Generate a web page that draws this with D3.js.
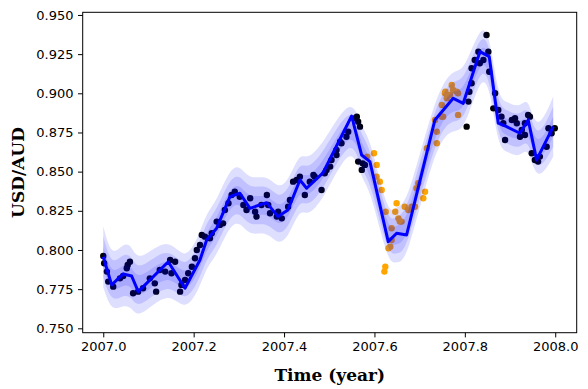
<!DOCTYPE html>
<html>
<head>
<meta charset="utf-8">
<script src="https://cdn.jsdelivr.net/npm/d3@7"></script>
<style>
  body { margin: 0; background: #fff; }
  .tick text { font-family: "DejaVu Sans", sans-serif; font-size: 13px; fill: #000; }
</style>
</head>
<body>
<div id="chart"></div>
<script>
// predicted mean at the knot positions
const meanYears = [2007.000, 2007.0186, 2007.0442, 2007.0628, 2007.0774, 2007.1438, 2007.1808, 2007.2139,
  2007.2288, 2007.2509, 2007.2803, 2007.3024, 2007.3246, 2007.3615, 2007.3865, 2007.4086, 2007.4352,
  2007.4500, 2007.4861, 2007.5496, 2007.5717, 2007.5900, 2007.6305, 2007.6491, 2007.6712, 2007.7338,
  2007.7743, 2007.7965, 2007.8334, 2007.8540, 2007.8739, 2007.8925, 2007.9219, 2007.9403, 2007.9588, 2007.9956];
const meanRates = [0.7957, 0.7777, 0.7847, 0.7834, 0.7734, 0.7925, 0.7756, 0.7936,
  0.8064, 0.8139, 0.8340, 0.8362, 0.8266, 0.8302, 0.8213, 0.8255, 0.8447,
  0.8394, 0.8492, 0.8855, 0.8606, 0.8564, 0.8053, 0.8107, 0.8096, 0.8830,
  0.8968, 0.8936, 0.9266, 0.9234, 0.8809, 0.8787, 0.8745, 0.8830, 0.8575, 0.8787];
// standard deviation at the same knots
const meanSigma = [0.0065, 0.0058, 0.0066, 0.0066, 0.0060, 0.0058, 0.0053, 0.0058,
  0.0058, 0.0058, 0.0060, 0.0060, 0.0060, 0.0060, 0.0060, 0.0060, 0.0060,
  0.0060, 0.0060, 0.0050, 0.0055, 0.0055, 0.0050, 0.0060, 0.0060, 0.0053,
  0.0064, 0.0064, 0.0055, 0.0055, 0.0053, 0.0053, 0.0053, 0.0053, 0.0053, 0.0064];

// training observations (black)
const trainYears = [2007.000, 2007.002, 2007.008, 2007.011, 2007.022, 2007.037, 2007.044, 2007.052, 2007.059, 2007.054,
  2007.066, 2007.077, 2007.088, 2007.103, 2007.114, 2007.117, 2007.125, 2007.137, 2007.148, 2007.159,
  2007.151, 2007.170, 2007.173, 2007.181, 2007.188, 2007.196, 2007.203, 2007.207, 2007.214, 2007.218,
  2007.225, 2007.236, 2007.240, 2007.251, 2007.258, 2007.265, 2007.269, 2007.277, 2007.284, 2007.291,
  2007.302, 2007.310, 2007.317, 2007.325, 2007.336, 2007.350, 2007.362, 2007.369, 2007.384, 2007.339,
  2007.365, 2007.387, 2007.395, 2007.409, 2007.413, 2007.420, 2007.428, 2007.435, 2007.446, 2007.457,
  2007.465, 2007.468, 2007.483, 2007.490, 2007.494, 2007.502, 2007.505, 2007.516, 2007.524, 2007.527,
  2007.516, 2007.538, 2007.542, 2007.557, 2007.561, 2007.564, 2007.568, 2007.564, 2007.574, 2007.572,
  2007.579, 2007.804, 2007.808, 2007.810, 2007.815, 2007.815, 2007.822, 2007.830, 2007.833, 2007.841,
  2007.848, 2007.852, 2007.854, 2007.867, 2007.863, 2007.874, 2007.881, 2007.885, 2007.889, 2007.904,
  2007.911, 2007.915, 2007.922, 2007.926, 2007.933, 2007.940, 2007.944, 2007.948, 2007.955, 2007.962,
  2007.966, 2007.981, 2007.985, 2007.992, 2007.999, 2007.933];
const trainRates = [0.7962, 0.7915, 0.7862, 0.7798, 0.7766, 0.7819, 0.7834, 0.7883, 0.7925, 0.7904,
  0.7724, 0.7734, 0.7756, 0.7819, 0.7787, 0.7734, 0.7872, 0.7862, 0.7936, 0.7925,
  0.7851, 0.7734, 0.7777, 0.7809, 0.7851, 0.7893, 0.7947, 0.8000, 0.8032, 0.8096,
  0.8085, 0.8075, 0.8107, 0.8181, 0.8160, 0.8170, 0.8255, 0.8298, 0.8351, 0.8372,
  0.8340, 0.8287, 0.8255, 0.8330, 0.8244, 0.8287, 0.8351, 0.8234, 0.8213, 0.8213,
  0.8287, 0.8244, 0.8202, 0.8276, 0.8319, 0.8436, 0.8447, 0.8468, 0.8351, 0.8436,
  0.8479, 0.8468, 0.8383, 0.8490, 0.8511, 0.8532, 0.8574, 0.8606, 0.8691, 0.8681,
  0.8638, 0.8723, 0.8755, 0.8841, 0.8851, 0.8819, 0.8787, 0.8564, 0.8553, 0.8511,
  0.8543, 0.8787, 0.8947, 0.9010, 0.9064, 0.9160, 0.9213, 0.9266, 0.9192, 0.9213,
  0.9372, 0.9266, 0.9138, 0.9000, 0.8904, 0.8894, 0.8851, 0.8809, 0.8702, 0.8830,
  0.8841, 0.8809, 0.8723, 0.8766, 0.8809, 0.8862, 0.8851, 0.8617, 0.8574, 0.8564,
  0.8596, 0.8659, 0.8777, 0.8745, 0.8777, 0.8734];

// held-out observations (orange)
const testYears = [2007.599, 2007.584, 2007.605, 2007.612, 2007.616, 2007.605, 2007.625, 2007.638, 2007.638, 2007.635,
  2007.631, 2007.624, 2007.622, 2007.649, 2007.646, 2007.653, 2007.656, 2007.667, 2007.675, 2007.682,
  2007.690, 2007.660, 2007.693, 2007.697, 2007.712, 2007.708, 2007.716, 2007.738, 2007.734, 2007.749,
  2007.749, 2007.785, 2007.738, 2007.757, 2007.771, 2007.774, 2007.785, 2007.760, 2007.752, 2007.767,
  2007.782, 2007.756];
const testRates = [0.8617, 0.8596, 0.8543, 0.8436, 0.8383, 0.8468, 0.8244, 0.8139, 0.8064, 0.8021,
  0.8011, 0.7893, 0.7862, 0.8298, 0.8244, 0.8202, 0.8181, 0.8276, 0.8255, 0.8276,
  0.8276, 0.8181, 0.8394, 0.8426, 0.8372, 0.8330, 0.8649, 0.8755, 0.8830, 0.8851,
  0.8926, 0.8862, 0.8681, 0.9010, 0.9053, 0.9021, 0.9000, 0.8968, 0.8851, 0.8989,
  0.9010, 0.9000];

const xTicks = [2007.0, 2007.2, 2007.4, 2007.6, 2007.8, 2008.0];
const yTicks = [0.750, 0.775, 0.800, 0.825, 0.850, 0.875, 0.900, 0.925, 0.950];

// set the dimensions and margins of the graph
const width = 588;
const height = 389;
const margin = { top: 12.3, right: 11.3, bottom: 56.3, left: 82.7 };
const plotW = width - margin.left - margin.right;
const plotH = height - margin.top - margin.bottom;

const svg = d3.select("#chart")
  .append("svg")
  .attr("width", width)
  .attr("height", height);

const g = svg.append("g")
  .attr("transform", `translate(${margin.left}, ${margin.top})`);

const x = d3.scaleLinear().domain([2006.9545, 2008.0475]).range([0, plotW]);
const y = d3.scaleLinear().domain([0.7472, 0.9517]).range([plotH, 0]);

g.append("clipPath").attr("id", "clip")
  .append("rect").attr("width", plotW).attr("height", plotH);
const plot = g.append("g").attr("clip-path", "url(#clip)");

// observations go under the bands
const train = trainYears.map((t, i) => [t, trainRates[i]]);
const test = testYears.map((t, i) => [t, testRates[i]]);

plot.selectAll(".train")
  .data(train)
  .join("circle")
  .attr("class", "train")
  .attr("cx", d => x(d[0]))
  .attr("cy", d => y(d[1]))
  .attr("r", 3.2)
  .attr("fill", "#000");

plot.selectAll(".test")
  .data(test)
  .join("circle")
  .attr("class", "test")
  .attr("cx", d => x(d[0]))
  .attr("cy", d => y(d[1]))
  .attr("r", 3.2)
  .attr("fill", "#ffa500");

// confidence bands: 3, 2 and 1 sigma, each a translucent blue layer
const knots = meanYears.map((t, i) => ({ t: t, m: meanRates[i], s: meanSigma[i] }));
[3, 2, 1].forEach(k => {
  const area = d3.area()
    .x(d => x(d.t))
    .y0(d => y(d.m - k * d.s))
    .y1(d => y(d.m + k * d.s))
    .curve(d3.curveBasis);
  plot.append("path")
    .datum(knots)
    .attr("d", area)
    .attr("fill", "blue")
    .attr("fill-opacity", 0.13);
});

// mean line
const line = d3.line()
  .x(d => x(d.t))
  .y(d => y(d.m));
plot.append("path")
  .datum(knots)
  .attr("d", line)
  .attr("fill", "none")
  .attr("stroke", "blue")
  .attr("stroke-width", 3)
  .attr("stroke-linejoin", "round");

// axes
const xAxis = g.append("g")
  .attr("transform", `translate(0, ${plotH})`)
  .call(d3.axisBottom(x).tickValues(xTicks).tickFormat(d3.format(".1f")).tickSize(4.7).tickPadding(4.5));
const yAxis = g.append("g")
  .call(d3.axisLeft(y).tickValues(yTicks).tickFormat(d3.format(".3f")).tickSize(4.7).tickPadding(4.5));
[xAxis, yAxis].forEach(a => {
  a.select(".domain").remove();
  a.selectAll(".tick line").attr("stroke", "#000").attr("stroke-width", 1);
});

// frame
g.append("rect")
  .attr("width", plotW)
  .attr("height", plotH)
  .attr("fill", "none")
  .attr("stroke", "#000")
  .attr("stroke-width", 1);

// labels
svg.append("text")
  .attr("x", margin.left + plotW / 2)
  .attr("y", 381)
  .attr("text-anchor", "middle")
  .style("font-family", "'DejaVu Serif', serif")
  .style("font-weight", "bold")
  .style("font-size", "17px")
  .text("Time (year)");

svg.append("text")
  .attr("transform", `translate(24, ${margin.top + plotH / 2}) rotate(-90)`)
  .attr("text-anchor", "middle")
  .style("font-family", "'DejaVu Serif', serif")
  .style("font-weight", "bold")
  .style("font-size", "17px")
  .text("USD/AUD");
</script>
</body>
</html>
